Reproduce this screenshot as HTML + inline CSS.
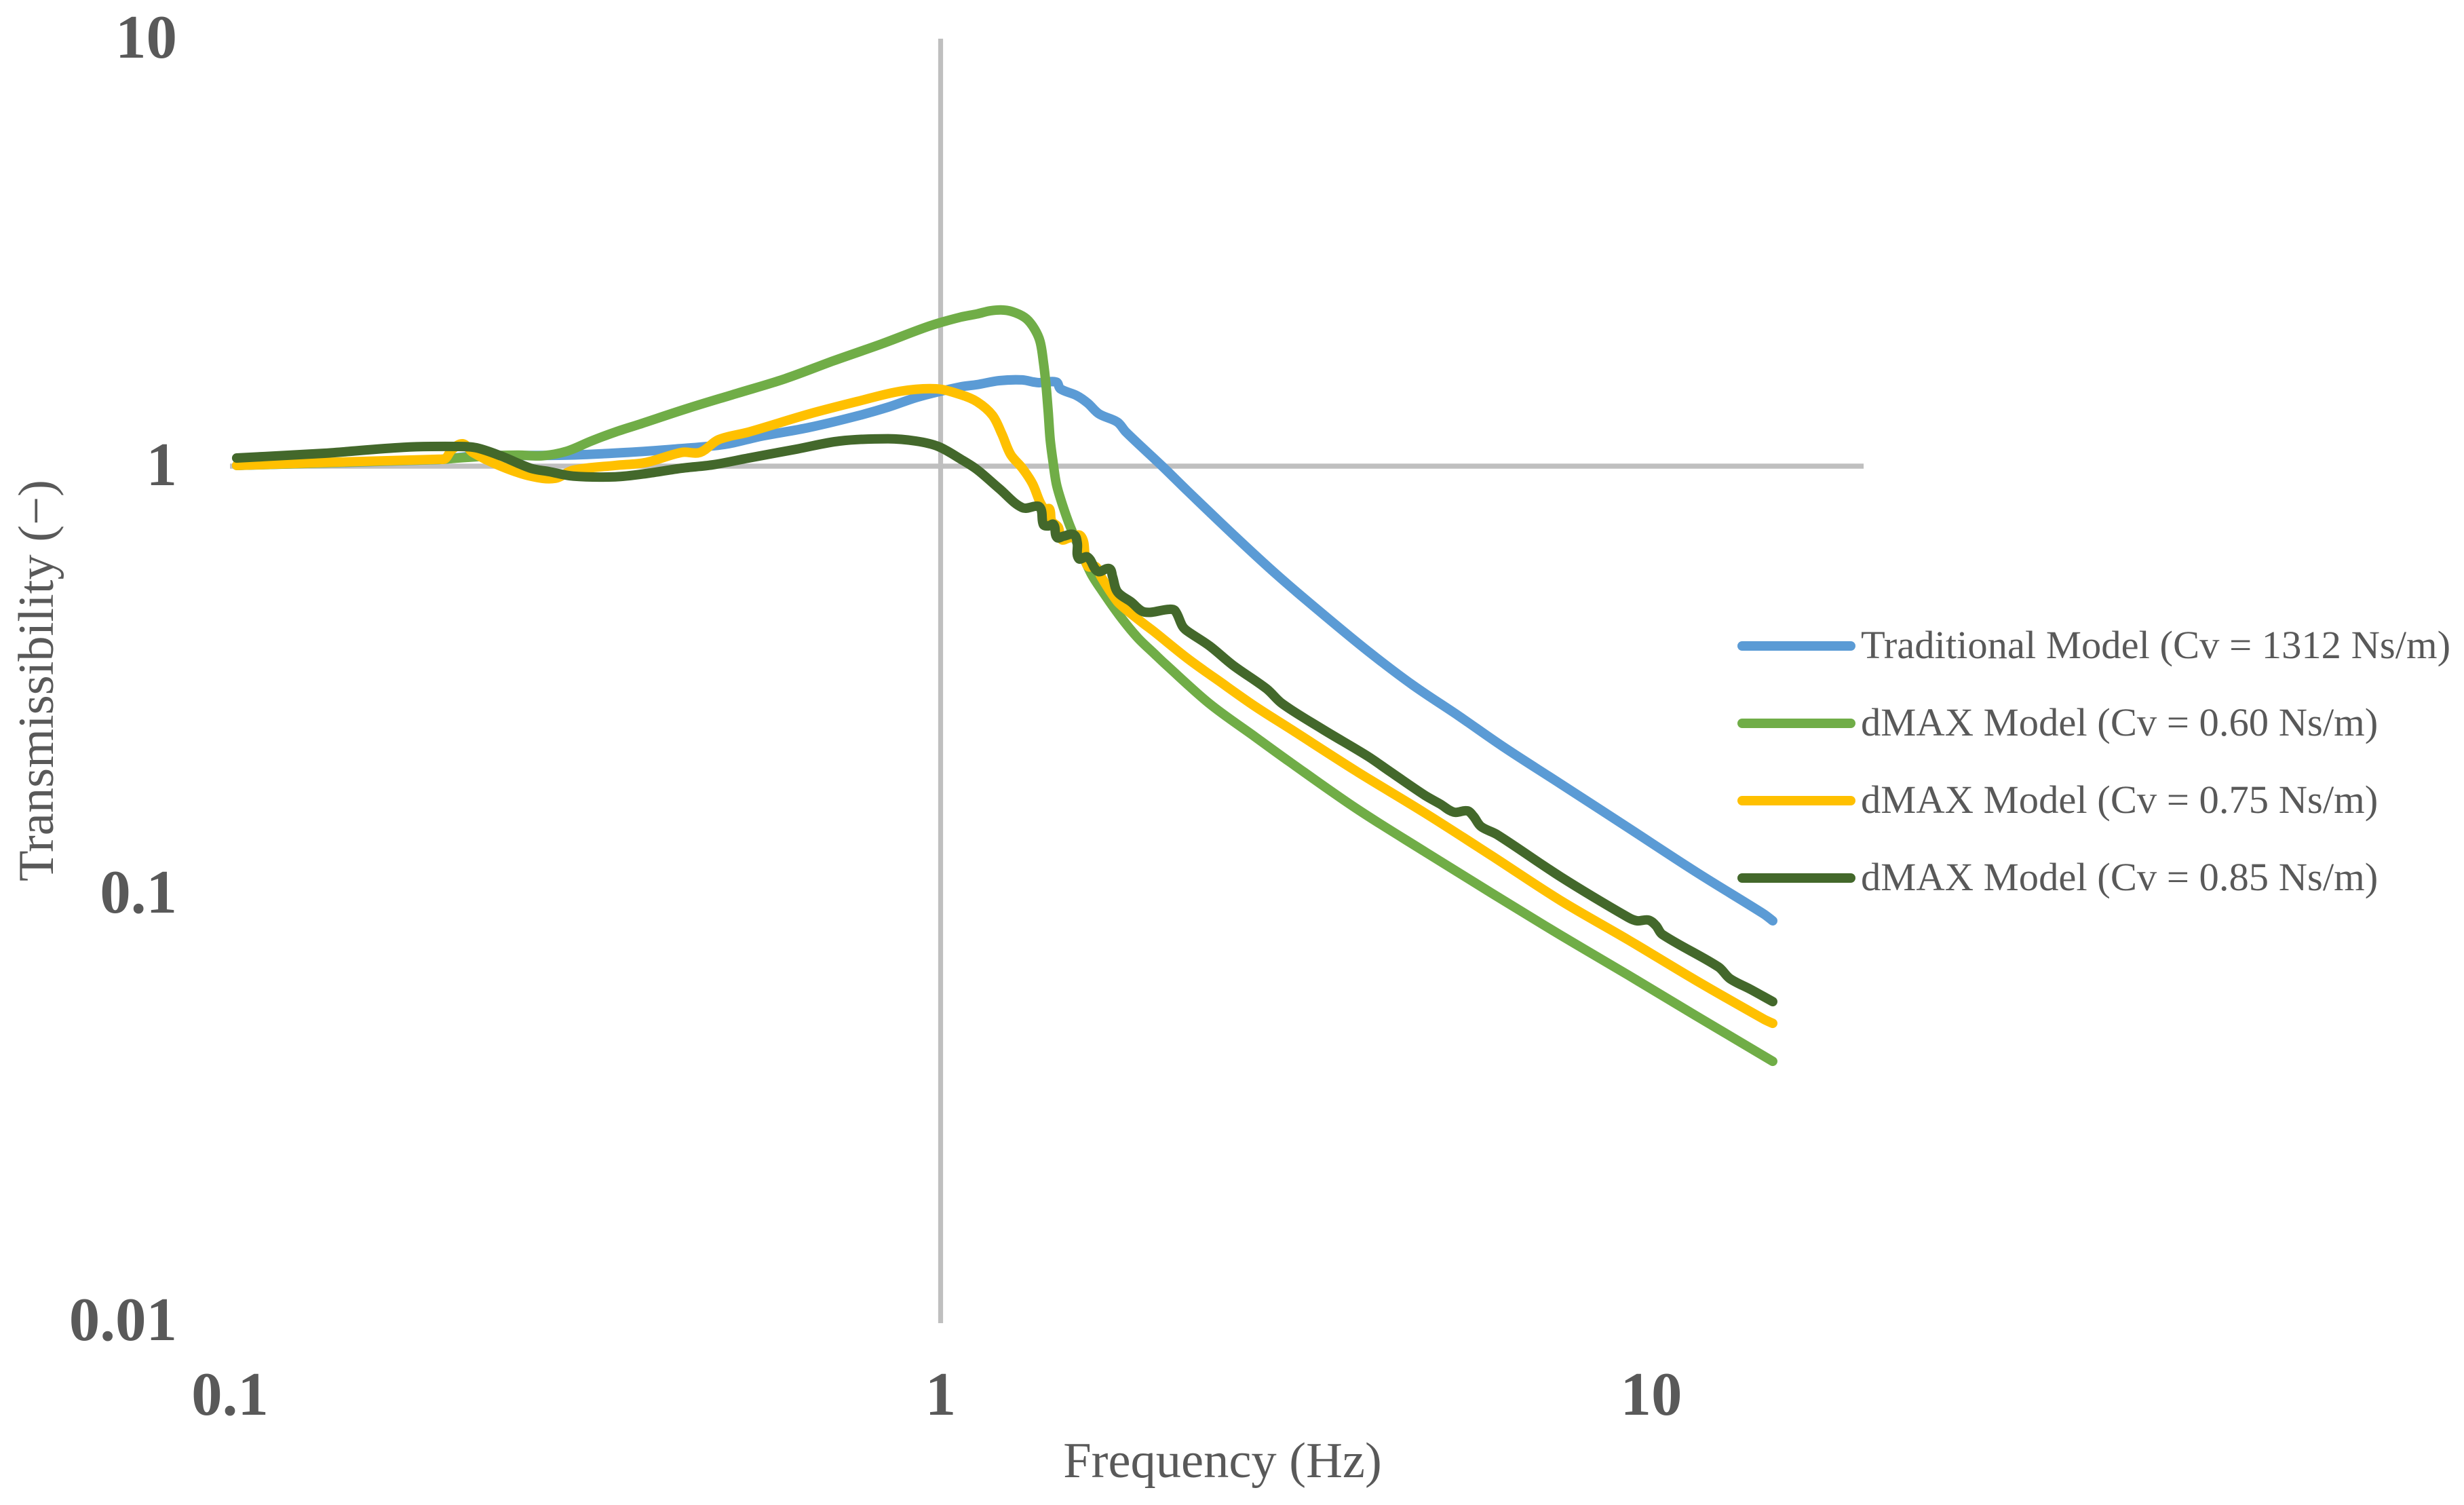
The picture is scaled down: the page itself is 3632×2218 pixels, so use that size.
<!DOCTYPE html>
<html lang="en">
<head>
<meta charset="utf-8">
<title>Transmissibility vs Frequency</title>
<style>
  html, body { margin: 0; padding: 0; background: #ffffff; }
  svg { display: block; }
  text { font-family: "Liberation Serif", "Times New Roman", serif; fill: #595959; }
  .tick { font-size: 91px; font-weight: bold; }
  .title { font-size: 74.5px; }
  .legend { font-size: 58.6px; }
</style>
</head>
<body>
<svg id="chart" xmlns="http://www.w3.org/2000/svg" width="3632" height="2218" viewBox="0 0 3632 2218">
  <rect x="0" y="0" width="3632" height="2218" fill="#ffffff"/>
  <g id="grid"></g>
  <g id="series"></g>
  <g id="ticks"></g>
  <text class="title" x="1802" y="2177" text-anchor="middle">Frequency (Hz)</text>
  <text class="title" transform="translate(78 1003) rotate(-90)" text-anchor="middle">Transmissibility (−)</text>
  <g>
    <g>
      <line x1="2568" y1="952" x2="2728" y2="952" stroke="#5B9BD5" stroke-width="14" stroke-linecap="round"/>
      <text class="legend" x="2743" y="970">Traditional Model (Cv = 1312 Ns/m)</text>
    </g>
    <g>
      <line x1="2568" y1="1066" x2="2728" y2="1066" stroke="#70AD47" stroke-width="14" stroke-linecap="round"/>
      <text class="legend" x="2743" y="1084">dMAX Model (Cv = 0.60 Ns/m)</text>
    </g>
    <g>
      <line x1="2568" y1="1180" x2="2728" y2="1180" stroke="#FFC000" stroke-width="14" stroke-linecap="round"/>
      <text class="legend" x="2743" y="1198">dMAX Model (Cv = 0.75 Ns/m)</text>
    </g>
    <g>
      <line x1="2568" y1="1294" x2="2728" y2="1294" stroke="#43682B" stroke-width="14" stroke-linecap="round"/>
      <text class="legend" x="2743" y="1312">dMAX Model (Cv = 0.85 Ns/m)</text>
    </g>
  </g>
</svg>
<script>
var xTickValues = [0.1, 1, 10];
var xTickLabels = ["0.1", "1", "10"];
var yTickValues = [10, 1, 0.1, 0.01];
var yTickLabels = ["10", "1", "0.1", "0.01"];
var xAxisMin = 0.1;
var xAxisMax = 19.9;
var yAxisMin = 0.01;
var yAxisMax = 10;

var freqTraditional = [0.1022,0.1972,0.2211,0.2979,0.3625,0.4238,0.4965,0.5578,0.6535,0.7640,0.8433,0.9302,1.067,1.125,1.209,1.303,1.371,1.455,1.474,1.554,1.610,1.671,1.773,1.824,2.050,2.223,2.576,2.979,3.451,3.998,4.623,5.357,6.179,7.449,9.279,11.56,14.40,14.82];
var valuesTraditional = [1.004,1.037,1.056,1.061,1.077,1.097,1.124,1.174,1.232,1.311,1.374,1.452,1.533,1.551,1.585,1.591,1.568,1.573,1.517,1.463,1.405,1.325,1.268,1.201,1.000,0.8768,0.6937,0.5553,0.4508,0.3687,0.3071,0.2606,0.2210,0.1808,0.1426,0.1124,0.08961,0.08641];

var freqDmax060 = [0.1022,0.1972,0.2093,0.2354,0.2545,0.2755,0.2979,0.3224,0.3485,0.3773,0.4411,0.5162,0.6038,0.7069,0.8268,0.9674,1.067,1.125,1.175,1.228,1.275,1.321,1.356,1.380,1.395,1.407,1.417,1.426,1.439,1.455,1.480,1.523,1.624,1.678,1.785,1.894,1.992,2.068,2.390,2.770,3.092,3.852,4.800,5.977,7.449,9.279,11.56,14.82];
var valuesDmax060 = [1.004,1.037,1.045,1.058,1.061,1.058,1.084,1.145,1.202,1.254,1.366,1.479,1.601,1.764,1.933,2.131,2.231,2.270,2.309,2.318,2.284,2.211,2.092,1.959,1.756,1.551,1.340,1.157,1.026,0.9094,0.8240,0.7198,0.5655,0.5180,0.4475,0.3967,0.3660,0.3451,0.2782,0.2327,0.2039,0.1579,0.1254,0.1000,0.08001,0.06450,0.05180,0.04053];

var freqDmax075 = [0.1022,0.1359,0.1972,0.2009,0.2052,0.2125,0.2197,0.2401,0.2648,0.2866,0.3040,0.3485,0.3847,0.4323,0.4587,0.4869,0.5370,0.6536,0.7640,0.8774,0.9858,1.067,1.125,1.183,1.220,1.255,1.303,1.347,1.380,1.401,1.423,1.433,1.464,1.480,1.514,1.575,1.599,1.613,1.653,1.682,1.746,1.785,1.919,1.992,2.223,2.482,2.770,3.092,3.852,4.800,5.977,7.449,9.279,11.56,14.40,14.82];
var valuesDmax075 = [1.004,1.020,1.038,1.041,1.092,1.128,1.076,1.001,0.9477,0.9363,0.9783,1.004,1.020,1.077,1.077,1.153,1.202,1.325,1.417,1.497,1.517,1.470,1.415,1.315,1.187,1.064,0.9891,0.9094,0.8240,0.7943,0.7943,0.7438,0.7198,0.6739,0.6787,0.6864,0.6084,0.5822,0.5822,0.5512,0.4995,0.4763,0.4314,0.4116,0.3554,0.3117,0.2742,0.2440,0.1931,0.1545,0.1223,0.09641,0.07798,0.06266,0.05085,0.04974];

var freqDmax085 = [0.1022,0.1359,0.1754,0.2093,0.2221,0.2401,0.2648,0.2811,0.3040,0.3485,0.3847,0.4323,0.4775,0.5370,0.6284,0.7209,0.8433,0.9230,0.9924,1.069,1.125,1.209,1.303,1.371,1.386,1.395,1.417,1.442,1.458,1.491,1.540,1.557,1.564,1.610,1.664,1.727,1.746,1.773,1.853,1.936,2.096,2.137,2.190,2.223,2.390,2.576,2.875,3.025,3.451,3.998,4.299,4.800,5.048,5.275,5.512,5.622,5.760,6.072,7.449,9.279,9.550,9.913,10.15,10.36,12.43,12.90,13.79,14.82];
var valuesDmax085 = [1.045,1.072,1.107,1.112,1.104,1.058,0.9891,0.9712,0.9477,0.9443,0.9605,0.9891,1.007,1.045,1.097,1.145,1.159,1.145,1.112,1.037,0.9819,0.8864,0.8000,0.8061,0.7887,0.7302,0.7248,0.7302,0.6813,0.6864,0.6914,0.6617,0.6084,0.6128,0.5675,0.5759,0.5512,0.5085,0.4815,0.4558,0.4625,0.4592,0.4221,0.4116,0.3798,0.3426,0.3015,0.2782,0.2422,0.2092,0.1925,0.1699,0.1620,0.1551,0.1562,0.1517,0.1436,0.1374,0.1096,0.08799,0.08641,0.08672,0.08422,0.08032,0.06738,0.06331,0.05973,0.05591];

var plotOriginX = 1386.5;
var plotOriginY = 687;
var xDecade = 1047.5;
var yDecade = 630;
var NS = "http://www.w3.org/2000/svg";

function xScale(f) { return plotOriginX + xDecade * Math.log10(f); }
function yScale(t) { return plotOriginY - yDecade * Math.log10(t); }

function smoothPath(xs, ys) {
  var pts = xs.map(function (f, i) { return [xScale(f), yScale(ys[i])]; });
  var d = "M" + pts[0][0].toFixed(1) + " " + pts[0][1].toFixed(1);
  function tangent(i) {
    var a = pts[Math.max(i - 1, 0)], b = pts[Math.min(i + 1, pts.length - 1)];
    var dx = b[0] - a[0], dy = b[1] - a[1], n = Math.hypot(dx, dy) || 1;
    return [dx / n, dy / n];
  }
  for (var i = 0; i < pts.length - 1; i++) {
    var p = pts[i], q = pts[i + 1];
    var len = Math.hypot(q[0] - p[0], q[1] - p[1]) / 3;
    var t0 = tangent(i), t1 = tangent(i + 1);
    d += "C" + (p[0] + t0[0] * len).toFixed(1) + " " + (p[1] + t0[1] * len).toFixed(1) + " " +
         (q[0] - t1[0] * len).toFixed(1) + " " + (q[1] - t1[1] * len).toFixed(1) + " " +
         q[0].toFixed(1) + " " + q[1].toFixed(1);
  }
  return d;
}

var gridGroup = document.getElementById("grid");
var xAxisLine = document.createElementNS(NS, "line");


xAxisLine.setAttribute("x1", xScale(xAxisMin));
xAxisLine.setAttribute("x2", xScale(xAxisMax));
xAxisLine.setAttribute("y1", yScale(1));
xAxisLine.setAttribute("y2", yScale(1));
xAxisLine.setAttribute("stroke", "#BFBFBF");
xAxisLine.setAttribute("stroke-width", "7.4");
gridGroup.appendChild(xAxisLine);

var yAxisLine = document.createElementNS(NS, "line");


yAxisLine.setAttribute("x1", xScale(1));
yAxisLine.setAttribute("x2", xScale(1));
yAxisLine.setAttribute("y1", yScale(yAxisMax));
yAxisLine.setAttribute("y2", yScale(yAxisMin) + 3);
yAxisLine.setAttribute("stroke", "#BFBFBF");
yAxisLine.setAttribute("stroke-width", "7.2");
gridGroup.appendChild(yAxisLine);

var seriesGroup = document.getElementById("series");
var seriesFreqs = [freqTraditional, freqDmax060, freqDmax075, freqDmax085];
var seriesValues = [valuesTraditional, valuesDmax060, valuesDmax075, valuesDmax085];
var seriesColors = ["#5B9BD5", "#70AD47", "#FFC000", "#43682B"];
var seriesNames = ["series-traditional-model", "series-dmax-cv-060", "series-dmax-cv-075", "series-dmax-cv-085"];
for (var s = 0; s < seriesFreqs.length; s++) {
  var path = document.createElementNS(NS, "path");
  
  
  path.setAttribute("d", smoothPath(seriesFreqs[s], seriesValues[s]));
  path.setAttribute("fill", "none");
  path.setAttribute("stroke", seriesColors[s]);
  path.setAttribute("stroke-width", "14");
  path.setAttribute("stroke-linecap", "round");
  path.setAttribute("stroke-linejoin", "round");
  seriesGroup.appendChild(path);
}

var tickGroup = document.getElementById("ticks");
for (var i = 0; i < xTickValues.length; i++) {
  var xt = document.createElementNS(NS, "text");
  
  
  xt.setAttribute("class", "tick");
  xt.setAttribute("x", xScale(xTickValues[i]));
  xt.setAttribute("y", 2085);
  xt.setAttribute("text-anchor", "middle");
  xt.textContent = xTickLabels[i];
  tickGroup.appendChild(xt);
}
for (var j = 0; j < yTickValues.length; j++) {
  var yt = document.createElementNS(NS, "text");
  
  
  yt.setAttribute("class", "tick");
  yt.setAttribute("x", 261);
  yt.setAttribute("y", yScale(yTickValues[j]) + 28);
  yt.setAttribute("text-anchor", "end");
  yt.textContent = yTickLabels[j];
  tickGroup.appendChild(yt);
}
</script>
</body>
</html>
